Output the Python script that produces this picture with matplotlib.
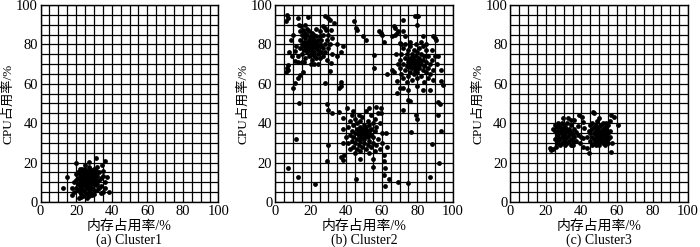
import numpy as np
import matplotlib
matplotlib.use("Agg")
import matplotlib.pyplot as plt
from matplotlib.ticker import MultipleLocator

plt.rcParams['font.family'] = ['Liberation Serif', 'Noto Sans CJK SC', 'DejaVu Sans']

# (memory %, cpu %) samples
a_points = [
    (12.5, 7), (15, 12.8), (19.7, 20), (23.4, 17), (27, 20.5), (31, 22.2), (36.5, 21), (34.7, 18.8),
    (37.5, 12.8), (38.4, 5.2), (31, 8.6), (17.4, 7.3), (17.8, 3.6), (21.5, 1.9), (26.2, 1.9), (29, 3.6),
    (33.7, 4.4), (20, 14), (21, 12), (21, 9), (21, 6), (22, 14), (22, 11), (22, 8), (22, 5), (23, 16),
    (23, 13), (23, 10), (23, 7), (23, 4), (24, 15), (24, 12), (24, 9), (24, 6), (24, 3), (25, 17),
    (25, 14), (25, 11), (25, 8), (25, 5), (26, 16), (26, 13), (26, 10), (26, 7), (26, 4), (27, 15),
    (27, 12), (27, 9), (27, 6), (28, 17), (28, 14), (28, 11), (28, 8), (28, 5), (29, 16), (29, 13),
    (29, 10), (29, 7), (30, 15), (30, 12), (30, 9), (30, 6), (31, 14), (31, 11), (32, 13), (32, 9),
    (32, 6), (33, 15), (33, 11), (34, 8), (35, 13), (19, 10), (20, 7), (22.5, 12.5), (23.5, 11.5),
    (24.5, 10.5), (25.5, 12.5), (26.5, 11.5), (27.5, 10.5), (24.5, 13.5), (25.5, 9.5), (26.5, 8.5),
    (27.5, 13.5), (23.5, 8.5), (28.5, 9.5), (29.5, 11.5), (25, 10), (26, 12), (24, 11), (27, 11),
    (28, 12), (23, 12), (29, 14), (31, 16), (21, 15), (20, 11), (35, 16), (36, 10), (34, 12), (33, 7),
    (30, 17), (27, 18), (25, 19), (22, 17), (32, 18), (30, 4), (27, 3), (23, 2.5), (19, 5), (36, 7),
    (35, 5),
]

b_left = [
    (14, 78), (14, 82), (15, 75), (15, 80), (15, 85), (16, 77), (16, 81), (16, 84), (17, 73), (17, 79),
    (17, 83), (17, 86), (18, 76), (18, 78), (18, 81), (18, 85), (19, 74), (19, 77), (19, 80), (19, 82),
    (19, 87), (20, 75), (20, 78), (20, 81), (20, 84), (21, 72), (21, 77), (21, 79), (21, 83), (21, 86),
    (22, 74), (22, 76), (22, 80), (22, 82), (22, 85), (23, 73), (23, 78), (23, 81), (23, 84), (24, 75),
    (24, 79), (24, 82), (24, 77), (25, 80), (25, 73), (25, 84), (26, 76), (26, 79), (26, 82), (27, 74),
    (27, 78), (27, 85), (28, 80), (28, 76), (29, 82), (29, 72), (30, 78), (31, 80), (32, 75),
    (18.5, 79.5), (19.5, 78.5), (20.5, 80.5), (21.5, 81.5), (20.5, 82.5), (19.5, 83.5), (17.5, 80.5),
    (22.5, 78.5), (23.5, 79.5), (16.5, 79), (13, 74), (12, 79), (11, 76.5), (9.3, 74), (11, 71.4),
    (13, 71), (15, 71), (16.5, 71), (20.4, 70), (22, 70), (24, 70), (31.5, 70.6), (35, 80), (35, 74),
    (37, 76), (38, 79), (13.9, 86.7), (13.3, 90), (14.8, 89.2), (15.7, 87.5), (26.8, 89.2),
    (27.8, 88.3), (28.7, 87.5), (31.5, 87.5), (30, 85), (32, 83), (25, 87), (23, 88), (18, 88),
    (17, 90), (9, 82), (10, 85), (8, 76), (6.5, 95), (7, 93.4), (6, 92), (12.6, 93.4), (18.5, 93.9),
    (27.8, 94.6), (29.6, 93.4), (30.6, 92.2), (33.3, 90.9), (44.4, 91.7), (45.4, 88.3), (46.3, 87.2),
    (49.6, 84.1), (7.4, 69.7), (6.5, 68), (7, 67.2), (6, 66), (13.9, 64.6), (13, 63), (11.1, 60.4),
    (10.2, 57.8), (15.7, 66), (30.6, 66.3), (28, 60.5), (37, 58.7), (36.1, 57.9), (37, 61),
]

b_right = [
    (70, 68), (70, 72), (71, 65), (71, 75), (72, 63), (72, 70), (72, 78), (73, 67), (73, 73), (73, 80),
    (74, 61), (74, 69), (74, 75), (75, 64), (75, 71), (75, 77), (76, 66), (76, 69), (76, 73), (76, 79),
    (77, 62), (77, 68), (77, 71), (77, 75), (78, 65), (78, 70), (78, 72), (78, 77), (79, 67), (79, 69),
    (79, 74), (79, 80), (80, 63), (80, 66), (80, 71), (80, 76), (81, 68), (81, 73), (81, 78), (82, 64),
    (82, 70), (82, 75), (83, 67), (83, 72), (83, 79), (84, 61), (84, 69), (84, 74), (85, 66), (85, 71),
    (85, 77), (86, 63), (86, 68), (86, 74), (87, 70), (87, 65), (88, 72), (88, 77), (89, 67), (89, 62),
    (77.5, 70.5), (78.5, 68.5), (76.5, 71.5), (79.5, 71.5), (77.5, 73.5), (78.5, 66.5), (75.5, 68.5),
    (80.5, 69.5), (74.5, 72.5), (81.5, 71.5), (68, 75), (69, 70), (67, 66), (90, 74), (91, 70),
    (72, 58), (75, 57), (80, 59), (83, 57), (87, 57), (85, 80), (82, 81), (76, 81), (71, 80),
    (70.4, 80.7), (50.9, 82.4), (58.3, 86.6), (59.3, 85.8), (60.2, 84.9), (61.1, 81), (66.7, 89.2),
    (67.6, 88.3), (65.7, 84.1), (67.6, 85), (68.5, 85.8), (69.4, 86.6), (72.2, 92.5), (72.2, 86.7),
    (73.1, 84.1), (78.7, 94.2), (79.6, 94.6), (80.6, 94.2), (79.6, 90), (83.3, 84.1), (88.9, 84.1),
    (89.8, 83.2), (90.7, 82.4), (55.6, 74.8), (55.6, 68), (91.7, 74), (93.5, 67.2), (93.5, 61.3),
    (94.4, 59.6), (68.5, 61.3), (70.4, 58), (68.5, 55.3), (75, 52), (65.7, 67.2), (63, 65),
]

b_bottom = [
    (41, 30), (41, 38), (42, 27), (42, 34), (42, 41), (43, 31), (43, 36), (43, 44), (44, 28), (44, 33),
    (44, 39), (45, 25), (45, 30), (45, 35), (45, 42), (46, 27), (46, 32), (46, 37), (46, 40), (47, 29),
    (47, 34), (47, 36), (47, 44), (48, 26), (48, 31), (48, 33), (48, 38), (48, 41), (49, 28), (49, 35),
    (49, 37), (49, 43), (50, 30), (50, 32), (50, 36), (50, 39), (51, 27), (51, 34), (51, 38), (51, 46),
    (52, 29), (52, 33), (52, 36), (52, 41), (53, 25), (53, 31), (53, 35), (53, 39), (54, 28), (54, 34),
    (54, 37), (54, 44), (55, 30), (55, 33), (55, 40), (56, 26), (56, 36), (56, 42), (57, 29), (57, 38),
    (58, 32), (58, 45), (59, 27), (59, 40), (60, 35), (60, 30), (49.5, 34.5), (50.5, 35.5),
    (48.5, 36.5), (51.5, 33.5), (47.5, 35.5), (50.5, 37.5), (49.5, 32.5), (52.5, 34.5), (46.5, 34.5),
    (53.5, 36.5), (40, 33), (39, 24), (44, 46), (52.8, 47.6), (56.5, 48.4), (59.3, 47.6), (59.3, 45),
    (62.6, 34.9), (63, 28.1), (61, 24), (55, 22), (48, 22),
]

b_sparse = [
    (13.3, 50.1), (29.3, 49.7), (29.6, 46.7), (31.8, 45.3), (36.1, 45.8), (40.7, 47.6), (38, 42.5),
    (38, 36.9), (11.5, 31.8), (29.6, 28.9), (38, 29.8), (37, 23), (38, 21.3), (29, 20.8), (7, 17.4),
    (13, 12.5), (22.2, 9.1), (45.4, 11.7), (61.1, 20.8), (62, 17.1), (61.1, 13.7), (55.2, 17.9),
    (63.9, 11.5), (61.7, 8.1), (68.9, 10.3), (75, 9.8), (72.2, 46.7), (75.6, 51.4), (79.3, 44.2),
    (80, 42), (76.3, 35.7), (91.7, 50.9), (92.6, 49.7), (91.7, 44.2), (93.5, 36.2), (88.5, 29.4),
    (92.2, 19.6), (87, 12.5),
]

c_left = [
    (25, 32), (25, 36), (25, 39), (26, 30), (26, 34), (26, 38), (27, 31), (27, 33), (27, 36), (27, 40),
    (28, 29), (28, 32), (28, 35), (28, 38), (29, 30), (29, 33), (29, 37), (29, 40), (30, 31), (30, 34),
    (30, 36), (30, 39), (31, 29), (31, 32), (31, 35), (31, 38), (32, 30), (32, 33), (32, 36), (32, 40),
    (33, 31), (33, 34), (33, 37), (34, 29), (34, 32), (34, 35), (34, 39), (35, 31), (35, 34), (36, 33),
    (36, 37), (26.5, 35.5), (28.5, 36.5), (30.5, 37.5), (29.5, 34.5), (31.5, 36.5), (27.5, 38.5),
    (33.5, 36), (22.2, 27.3), (23.1, 26.4), (24, 26.9), (25.5, 28.1), (24, 37), (29.6, 42.8),
    (32.4, 42.5), (34.2, 41.6), (36.1, 41.6), (38.5, 44.2), (40.4, 43.3), (40.8, 40.8), (41.7, 37.4),
    (37, 35.7), (38, 34), (39.8, 33.1), (40.8, 32.3), (35.2, 28.9), (40.8, 28.1), (43.2, 27.6),
    (38, 38.5), (37, 31), (39, 30),
]

c_right = [
    (45, 31), (45, 35), (45, 39), (46, 29), (46, 33), (46, 37), (46, 40), (47, 30), (47, 32), (47, 35),
    (47, 38), (48, 29), (48, 31), (48, 34), (48, 36), (48, 39), (49, 30), (49, 33), (49, 35), (49, 37),
    (49, 41), (50, 29), (50, 32), (50, 34), (50, 38), (51, 31), (51, 33), (51, 36), (51, 39), (52, 30),
    (52, 32), (52, 35), (52, 37), (52, 40), (53, 29), (53, 33), (53, 36), (53, 38), (54, 31), (54, 34),
    (54, 37), (54, 40), (55, 30), (55, 32), (55, 35), (55, 39), (56, 33), (56, 36), (56, 41),
    (49.5, 34.5), (50.5, 35.5), (51.5, 34.5), (48.5, 32.5), (44.5, 24.7), (46.4, 45.8), (47.3, 45),
    (50.1, 42.5), (56.6, 44.2), (58.5, 43.3), (60.3, 39.1), (56.6, 25.5), (57, 30), (44, 36), (43, 33),
]

panels = [
    ("(a) Cluster1", [a_points]),
    ("(b) Cluster2", [b_left, b_right, b_bottom, b_sparse]),
    ("(c) Cluster3", [c_left, c_right]),
]
lefts = [0.058, 0.393, 0.729]

fig = plt.figure(figsize=(7, 2.47), dpi=100)

for left, (caption, groups) in zip(lefts, panels):
    ax = fig.add_axes([left, 0.182, 0.254, 0.798])
    pts = np.array([p for g in groups for p in g])
    ax.scatter(pts[:, 0], pts[:, 1], s=12, color="black", linewidths=0, zorder=3)

    ax.set_xlim(0, 100)
    ax.set_ylim(0, 100)
    ax.xaxis.set_major_locator(MultipleLocator(20))
    ax.yaxis.set_major_locator(MultipleLocator(20))
    ax.xaxis.set_minor_locator(MultipleLocator(5))
    ax.yaxis.set_minor_locator(MultipleLocator(5))
    ax.grid(True, which="both", color="black", linewidth=0.9)
    ax.set_axisbelow(True)
    ax.tick_params(which="both", length=0, labelsize=10.5, pad=2)
    for sp in ax.spines.values():
        sp.set_linewidth(1.0)

    ax.set_xlabel("内存占用率/%", fontsize=10, labelpad=1)
    ax.set_ylabel("CPU占用率/%", fontsize=9.5, labelpad=1)
    fig.text(left + 0.254 / 2, 0.028, caption, ha="center", va="center", fontsize=10)

fig.savefig("out.png", dpi=100)
